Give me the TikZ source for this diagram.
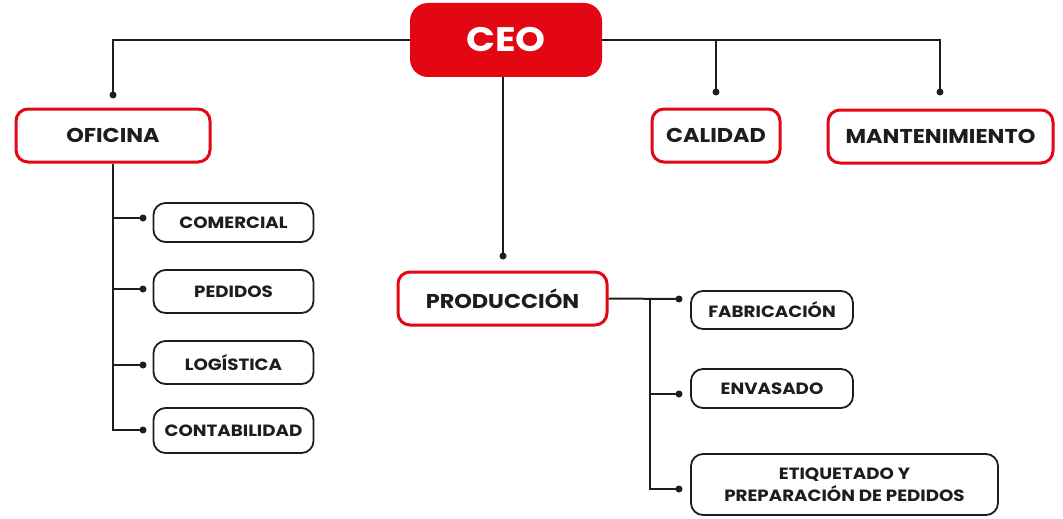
\documentclass[tikz,border=0pt]{standalone}
\usepackage{fontspec}
\setmainfont{Poppins}
\newfontfamily\wideface{Poppins}[FakeStretch=1.12]
\definecolor{ceored}{RGB}{227,6,19}
\definecolor{inkgray}{RGB}{29,29,27}

\begin{document}
\begin{tikzpicture}[x=1pt,y=-1pt,
  ceobox/.style={fill=ceored, rounded corners=18pt, minimum width=192pt, minimum height=74pt, text=white, font=\wideface\fontsize{34}{34}\selectfont\bfseries},
  areabox/.style={draw=ceored, line width=3pt, fill=white, rounded corners=12pt, minimum height=53pt, text=inkgray, font=\wideface\fontsize{20}{20}\selectfont\bfseries},
  taskbox/.style={draw=inkgray, line width=1.8pt, fill=white, rounded corners=12pt, text=inkgray, font=\wideface\fontsize{16.3}{22}\selectfont\bfseries, align=center},
  link/.style={draw=inkgray, line width=2pt},
  dot/.style={fill=inkgray}]

\useasboundingbox (0,0) rectangle (1063,519);

% Head
\node[ceobox] (ceo) at (506,40) {CEO};

% Areas
\node[areabox, minimum width=194pt] (oficina) at (113,135.5) {OFICINA};
\node[areabox, minimum width=128pt] (calidad) at (716,135.5) {CALIDAD};
\node[areabox, minimum width=225pt] (mant) at (940.5,136.5) {MANTENIMIENTO};
\node[areabox, minimum width=209pt] (produccion) at (502.5,298.5) {PRODUCCIÓN};

% Office tasks
\node[taskbox, minimum width=160pt, minimum height=39pt] (comercial) at (233.5,222.5) {COMERCIAL};
\node[taskbox, minimum width=160pt, minimum height=43pt] (pedidos) at (233.5,291.5) {PEDIDOS};
\node[taskbox, minimum width=160pt, minimum height=43pt] (logistica) at (233.5,362.5) {LOGÍSTICA};
\node[taskbox, minimum width=160pt, minimum height=45pt] (contab) at (233.5,430.5) {CONTABILIDAD};

% Production tasks
\node[taskbox, minimum width=162pt, minimum height=38pt] (fabric) at (772,310) {FABRICACIÓN};
\node[taskbox, minimum width=162pt, minimum height=39pt] (envas) at (772,388.5) {ENVASADO};
\node[taskbox, minimum width=307pt, minimum height=61pt] (etiq) at (844.5,484.5) {ETIQUETADO Y\\PREPARACIÓN DE PEDIDOS};

% Dot ends
\coordinate (doficina) at (113,95);
\coordinate (dcalidad) at (716,92);
\coordinate (dmant) at (940,92);
\coordinate (dprod) at (503,256);
\coordinate (dcom) at (143,218);
\coordinate (dped) at (143,289);
\coordinate (dlog) at (143,365);
\coordinate (dcont) at (143,430);
\coordinate (dfab) at (679,299);
\coordinate (denv) at (679,394);
\coordinate (detiq) at (679,489);
\coordinate (pbus) at (650,299);

% Top links
\draw[link] (ceo.west) -| (doficina);
\draw[link] (ceo.east) -| (dmant);
\draw[link] (dcalidad |- ceo.east) -- (dcalidad);
\draw[link] (dprod |- ceo.south) -- (dprod);

% Office links
\draw[link] (oficina.south) |- (dcom);
\draw[link] (oficina.south) |- (dped);
\draw[link] (oficina.south) |- (dlog);
\draw[link] (oficina.south) |- (dcont);

% Production links
\draw[link] (produccion.east) -- (dfab);
\draw[link] (pbus) |- (denv);
\draw[link] (pbus) |- (detiq);

% Dots
\foreach \d in {doficina,dcalidad,dmant,dprod,dcom,dped,dlog,dcont,dfab,denv,detiq}
  \fill[dot] (\d) circle (3.5pt);

\end{tikzpicture}
\end{document}
